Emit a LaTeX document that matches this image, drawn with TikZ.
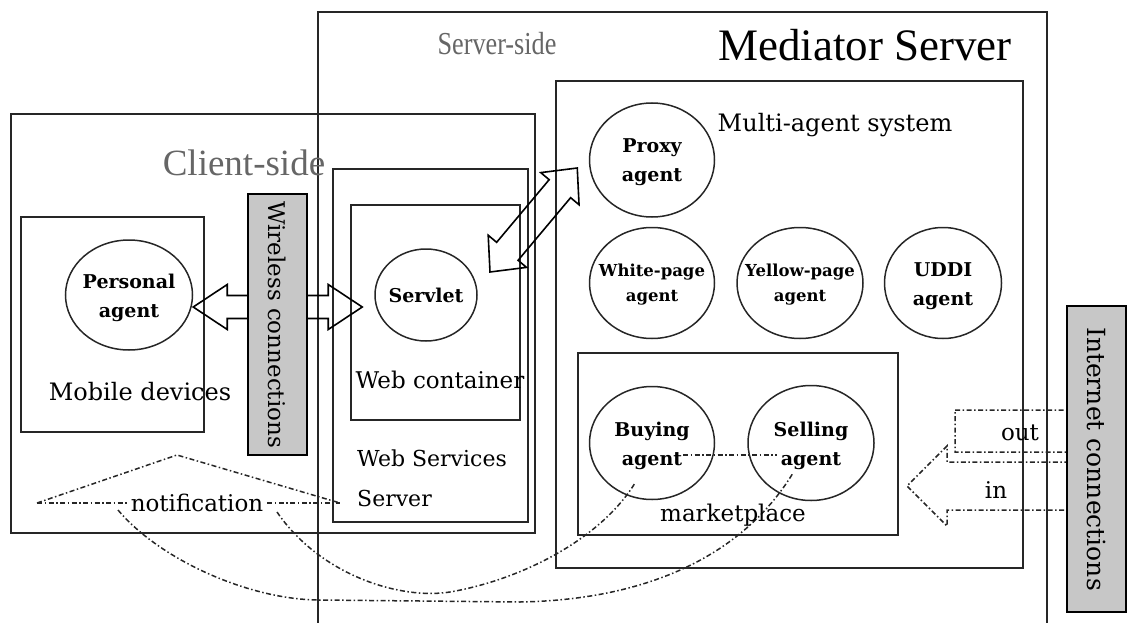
\documentclass[tikz,border=0pt]{standalone}
\usepackage{fontspec}
\setmainfont{Liberation Serif}
\newfontfamily\labelfont{DejaVu Serif}
\usetikzlibrary{calc,shapes.geometric}

% hollow double-headed block arrow between two points
% #1 options, #2 end A, #3 end B, #4 shaft half width, #5 head half width, #6 head length
\newcommand\dblarrow[6][]{%
  \draw[blockarrow,#1] (#2)
    -- ($(#2)!#6!(#3)!#5!90:(#3)$)
    -- ($(#2)!#6!(#3)!#4!90:(#3)$)
    -- ($(#3)!#6!(#2)!#4!90:(#3)$)
    -- ($(#3)!#6!(#2)!#5!90:(#3)$)
    -- (#3)
    -- ($(#3)!#6!(#2)!#5!-90:(#3)$)
    -- ($(#3)!#6!(#2)!#4!-90:(#3)$)
    -- ($(#2)!#6!(#3)!#4!-90:(#3)$)
    -- ($(#2)!#6!(#3)!#5!-90:(#3)$)
    -- cycle;}

% hollow single-headed block arrow from tail #2 to tip #3
\newcommand\sglarrow[6][]{%
  \draw[blockarrow,#1] ($(#2)!#4!90:(#3)$)
    -- ($(#3)!#6!(#2)!#4!90:(#3)$)
    -- ($(#3)!#6!(#2)!#5!90:(#3)$)
    -- (#3)
    -- ($(#3)!#6!(#2)!#5!-90:(#3)$)
    -- ($(#3)!#6!(#2)!#4!-90:(#3)$)
    -- ($(#2)!#4!-90:(#3)$)
    -- cycle;}

\tikzset{
  frame/.style={draw=black!85, line width=1.6pt, rectangle, inner sep=0pt},
  agent/.style={ellipse, draw=black!85, line width=1.5pt, inner sep=0pt},
  agtext/.style={font=\labelfont\bfseries\fontsize{19}{29}\selectfont, align=center, inner sep=0pt},
  graybox/.style={draw=black, line width=1.7pt, fill=black!22, rectangle, inner sep=0pt},
  blockarrow/.style={draw=black, line width=1.6pt, line join=miter},
  dd/.style={draw=black!85, line width=1.5pt,
    dash pattern=on 5pt off 2.5pt on 1.5pt off 2.5pt},
  lbl/.style={font=\labelfont\fontsize{23}{28}\selectfont, inner sep=0pt},
  sidetitle/.style={text=black!60, inner sep=0pt},
}

\begin{document}
\begin{tikzpicture}[x=1pt,y=-1pt]
\useasboundingbox (0,0) rectangle (1129,623);

% server-side frame, open at the bottom
\draw[draw=black!85, line width=1.6pt] (318,623) -- (318,12) -- (1047,12) -- (1047,623);

% containers
\node[frame, minimum width=524pt, minimum height=419pt] (client) at (273,323.5) {};
\node[frame, minimum width=183pt, minimum height=215pt] (mobile) at (112.5,324.5) {};
\node[frame, minimum width=195pt, minimum height=353pt] (websrv) at (430.5,345.5) {};
\node[frame, minimum width=169pt, minimum height=215pt] (webcont) at (435.5,312.5) {};
\node[frame, minimum width=467pt, minimum height=487pt] (mas) at (789.5,324.5) {};
\node[frame, minimum width=320pt, minimum height=182pt] (market) at (738,444) {};

% agents
\node[agent, minimum width=127pt, minimum height=110pt] (personal) at (129,295) {};
\node[agent, minimum width=102pt, minimum height=92pt] (servlet) at (426,295) {};
\node[agent, minimum width=125pt, minimum height=114pt] (proxy) at (652,160) {};
\node[agent, minimum width=125pt, minimum height=111pt] (white) at (652,283) {};
\node[agent, minimum width=126pt, minimum height=111pt] (yellow) at (800,283) {};
\node[agent, minimum width=117pt, minimum height=111pt] (uddi) at (943,283) {};
\node[agent, minimum width=125pt, minimum height=113pt] (buying) at (652,443) {};
\node[agent, minimum width=126pt, minimum height=115pt] (selling) at (811,443) {};

\node[agtext] (personalT) at ($(personal)+(0,3)$) {Personal\\agent};
\node[agtext] (servletT) at (servlet) {Servlet};
\node[agtext] (proxyT) at ($(proxy)+(0,2)$) {Proxy\\agent};
\node[agtext, font=\labelfont\bfseries\fontsize{16.5}{25}\selectfont] (whiteT) at ($(white)+(0,2)$) {White-page\\agent};
\node[agtext, font=\labelfont\bfseries\fontsize{16.5}{25}\selectfont] (yellowT) at ($(yellow)+(0,2)$) {Yellow-page\\agent};
\node[agtext] (uddiT) at ($(uddi)+(0,3)$) {UDDI\\agent};
\node[agtext] (buyingT) at ($(buying)+(0,3)$) {Buying\\agent};
\node[agtext] (sellingT) at ($(selling)+(0,3)$) {Selling\\agent};

% block arrows
\coordinate (paTip) at ($(personal.east)+(0,12)$);
\coordinate (svTip) at ($(servlet.west)+(-12,12)$);
\dblarrow{paTip}{svTip}{11.5pt}{22.5pt}{34pt}
\coordinate (wcTip) at (490,272);
\coordinate (pxTip) at ($(proxy.west)+(-11.5,8)$);
\dblarrow{wcTip}{pxTip}{14pt}{25pt}{27pt}

% outgoing and incoming internet traffic
\coordinate (outTail) at (955,431);
\coordinate (outTip) at (1110,431);
\sglarrow[dd]{outTail}{outTip}{21pt}{34pt}{42pt}
\coordinate (inTail) at (1110,486);
\coordinate (inTip) at (907,486);
\sglarrow[dd]{inTail}{inTip}{24pt}{40pt}{40pt}

% notification paths
\node[lbl, inner sep=4pt] (note) at (197,503) {notification};
\coordinate (notL) at (37,503);
\coordinate (notP) at (177,455);
\coordinate (notE) at (340,503);
\draw[dd] (notL) -- (note.west);
\draw[dd] (note.east) -- (notE);
\draw[dd] (notL) -- (notP) -- (notE);
\draw[dd] ($(note.center)+(-79,7)$) .. controls (160,560) and (250,600) .. (320,600)
  -- (520,602) .. controls (640,600) and (740,560) .. ($(selling.center)+(-18,30)$);
\draw[dd] ($(note.center)+(80,9)$) .. controls (320,575) and (400,600) .. (450,592)
  .. controls (520,580) and (600,540) .. ($(buying.center)+(-17,40)$);
\draw[dd] ($(buying.center)+(31,12)$) -- ($(selling.center)+(-34,12)$);

% connection bars
\node[graybox, rotate=-90, minimum width=261pt, minimum height=59pt,
  font=\labelfont\fontsize{23}{28}\selectfont] (wireless) at (277.5,324.5) {Wireless connections};
\node[graybox, rotate=-90, minimum width=306pt, minimum height=59pt,
  font=\labelfont\fontsize{25}{30}\selectfont] (internet) at (1096.5,459) {Internet connections};

% titles and labels
\node[sidetitle, font=\fontsize{37}{40}\selectfont] (clientlbl) at (244,163) {Client-side};
\node[sidetitle, font=\fontsize{32}{36}\selectfont] (serverlbl) at (497,44) {\scalebox{0.82}[1]{Server-side}};
\node[font=\fontsize{45}{50}\selectfont, anchor=base, inner sep=0pt] (medlbl) at (865,61) {Mediator Server};
\node[lbl, font=\labelfont\fontsize{24}{28}\selectfont] (maslbl) at (835,125) {Multi-agent system};
\node[lbl, font=\labelfont\fontsize{24}{28}\selectfont] (mobilelbl) at (140,392) {Mobile devices};
\node[lbl] (webcontlbl) at (440,380) {Web container};
\node[lbl, align=left, anchor=west, font=\labelfont\fontsize{22}{40}\selectfont] (websrvlbl) at (357,478) {Web Services\\Server};
\node[lbl] (marketlbl) at (733,515) {marketplace};
\node[lbl] (outlbl) at (1020,433) {out};
\node[lbl] (inlbl) at (996,490) {in};
\end{tikzpicture}
\end{document}
